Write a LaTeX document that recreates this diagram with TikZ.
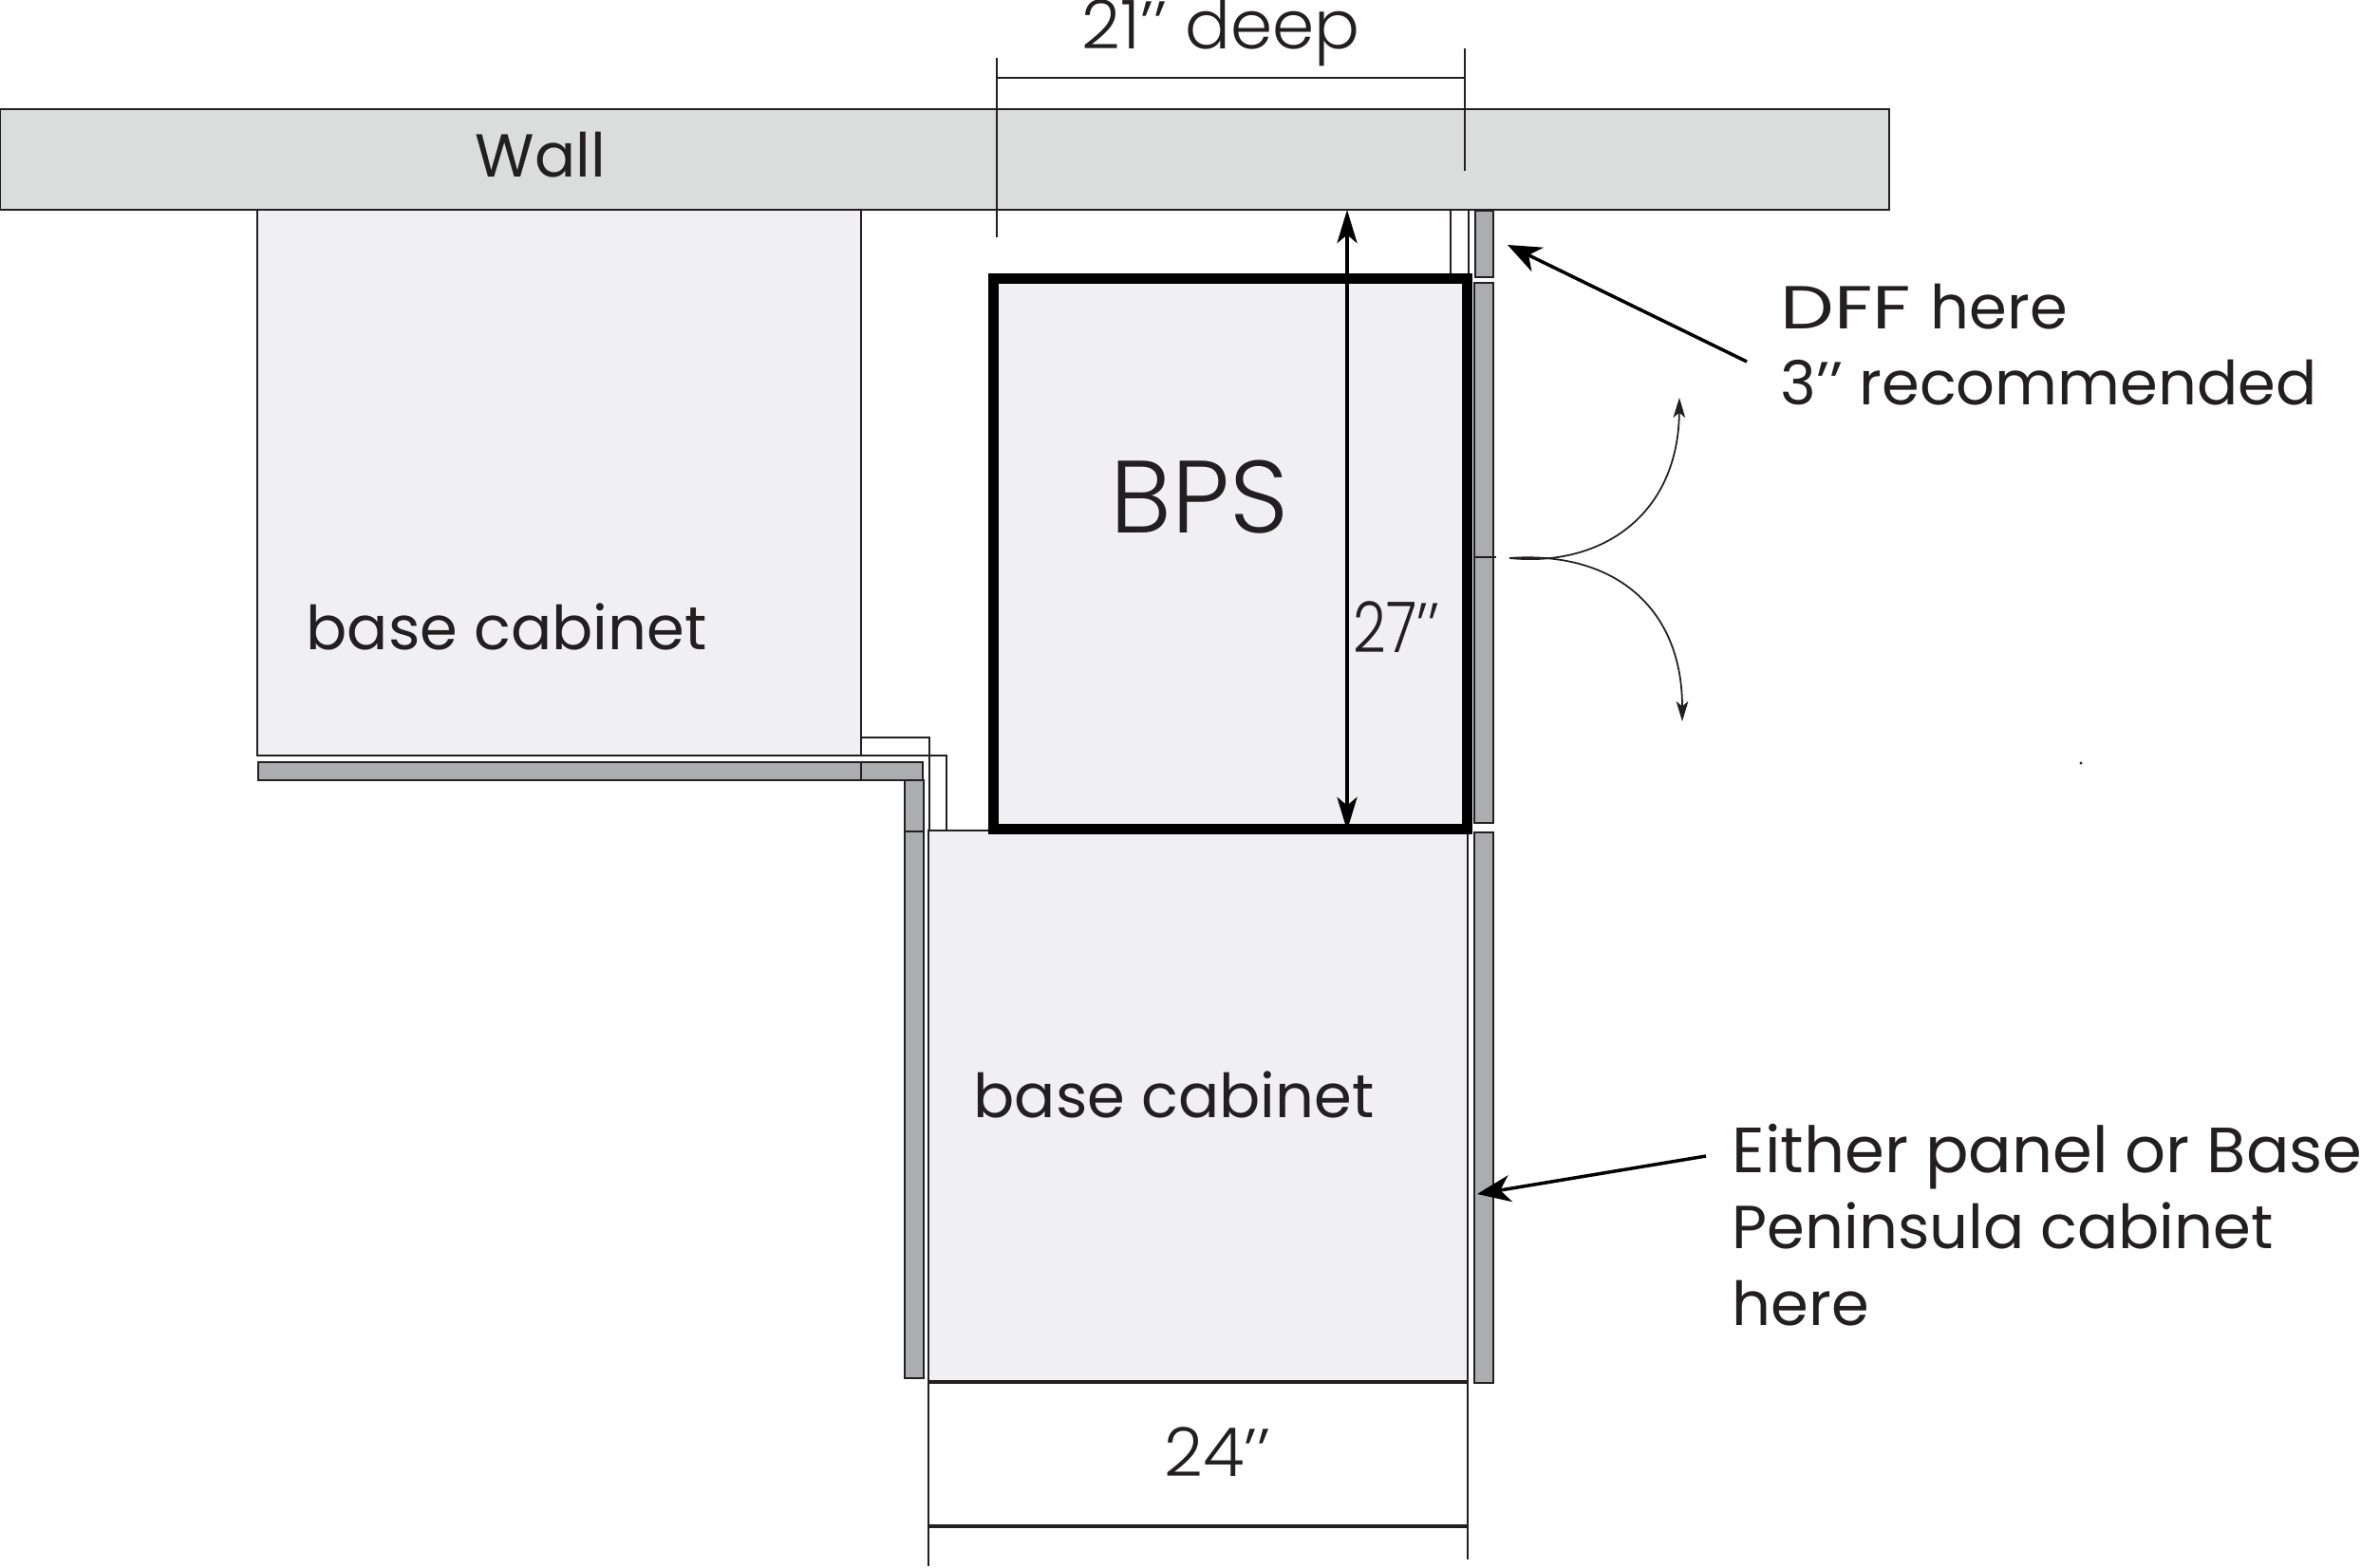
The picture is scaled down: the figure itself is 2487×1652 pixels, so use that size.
\documentclass[tikz,border=0pt]{standalone}
\usepackage{fontspec}
\usetikzlibrary{arrows.meta}
\setmainfont{Poppins}
\newfontfamily\lightfont{Poppins Light}
\newfontfamily\narrowfont[FakeStretch=0.82]{Poppins Light}
\newfontfamily\widefont[FakeStretch=1.25]{Poppins}
\definecolor{ink}{HTML}{231F20}
\definecolor{wallgray}{HTML}{DBDDDC}
\definecolor{cabgray}{HTML}{F0F0F2}
\definecolor{panelgray}{HTML}{ABADAF}
\tikzset{
  edge/.style={draw=ink,line width=0.75pt},
  wallbox/.style={draw=ink,line width=0.5pt,fill=wallgray},
  cabbox/.style={edge,fill=cabgray},
  panelbox/.style={draw=ink,line width=0.55pt,fill=panelgray},
  bpsbox/.style={draw=black,line width=3.1pt,fill=cabgray,line join=miter},
  label/.style={inner sep=0pt,anchor=base west,text=ink,font=\fontsize{18.2}{22}\selectfont},
  dimlabel/.style={inner sep=0pt,anchor=base west,text=ink,font=\lightfont\fontsize{20.2}{24}\selectfont},
  bigarrow/.style={draw=black,line width=1pt,-{Stealth[length=10pt,width=8pt,inset=3pt]}},
  dimarrow/.style={draw=black,line width=1pt,{Stealth[length=10pt,width=6pt,inset=2.5pt]}-{Stealth[length=10pt,width=6pt,inset=2.5pt]}},
  swing/.style={draw=ink,line width=0.5pt,-{Stealth[length=6pt,width=3.6pt,inset=1.5pt]}}
}
\begin{document}
\begin{tikzpicture}[x=0.01cm,y=-0.01cm]
\useasboundingbox (0,0) rectangle (2487,1652);
% wall
\path[wallbox] (0,115) rectangle (1990,221);
% cabinets
\path[cabbox] (271,221) rectangle (907,796);
\path[cabbox] (978,875) rectangle (1546,1457);
\draw[ink,line width=1.3pt] (978,1456) -- (1546,1456);
% panels
\path[panelbox] (272,803) rectangle (972,822);
\draw[panelbox] (907,803) -- (907,822);
\path[panelbox] (953,822) rectangle (973,1452);
\draw[panelbox] (953,876) -- (973,876);
\path[panelbox] (1554,222) rectangle (1573,292);
\path[panelbox] (1553,298) rectangle (1573,867);
\draw[edge] (1553,587) -- (1576,587);
\path[panelbox] (1553,877) rectangle (1573,1457);
% small returns
\draw[edge] (907,777) -- (979,777) -- (979,875);
\draw[edge] (907,796) -- (997,796) -- (997,875);
\draw[edge] (979,875) -- (1046,875);
\draw[edge] (1528,221) -- (1528,288);
\draw[edge] (1547,221) -- (1547,288);
% BPS
\path[bpsbox] (1046.5,293.5) rectangle (1545.5,873.5);
% dimension lines
\coordinate (d21a) at (1050,61); \coordinate (d21b) at (1050,250);
\coordinate (d21c) at (1543,51); \coordinate (d21d) at (1543,180);
\coordinate (d21l) at (1050,82); \coordinate (d21r) at (1543,82);
\draw[edge] (d21a) -- (d21b);
\draw[edge] (d21c) -- (d21d);
\draw[edge] (d21l) -- (d21r);
\coordinate (d24a) at (978,1456); \coordinate (d24b) at (978,1650);
\coordinate (d24c) at (1546,1456); \coordinate (d24d) at (1546,1643);
\coordinate (d24l) at (978,1608); \coordinate (d24r) at (1546,1608);
\draw[edge] (d24a) -- (d24b);
\draw[edge] (d24c) -- (d24d);
\draw[edge,line width=1.1pt] (d24l) -- (d24r);
\coordinate (d27t) at (1419,221); \coordinate (d27b) at (1419,875);
\draw[dimarrow] (d27t) -- (d27b);
% leader arrows
\coordinate (dfft) at (1840,381); \coordinate (dffh) at (1588,258);
\draw[bigarrow] (dfft) -- (dffh);
\coordinate (pant) at (1797,1218); \coordinate (panh) at (1556,1258);
\draw[bigarrow] (pant) -- (panh);
% door swings
\coordinate (swingstart) at (1590,588);
\coordinate (swingup) at (1769,419);
\coordinate (swingdown) at (1772,760);
\draw[swing] (swingstart) .. controls (1690,598) and (1768,540) .. (swingup);
\draw[swing] (swingstart) .. controls (1700,580) and (1772,640) .. (swingdown);
\fill[ink] (2192,804) circle (1.6);
% text
\node[label] (wall) at (500,187) {Wall};
\node[label] (base1) at (322,685) {base cabinet};
\node[label] (base2) at (1025,1177) {base cabinet};
\node[label,font=\lightfont\fontsize{30.8}{34}\selectfont] (bps) at (1169,561) {BPS};
\node[dimlabel] (deep) at (1139,52) {21’’ deep};
\node[dimlabel,font=\narrowfont\fontsize{21}{24}\selectfont] (t27) at (1425,687) {27’’};
\node[dimlabel] (t24) at (1226,1555) {24’’};
\node[label] (dff1) at (1875,347) {{\widefont DFF}\hspace{1pt} here};
\node[label] (dff2) at (1875,427) {3’’ recommended};
\node[label,font=\fontsize{19.15}{22}\selectfont] (ei1) at (1824,1235) {Either panel or Base};
\node[label] (ei2) at (1824,1315) {Peninsula cabinet};
\node[label] (ei3) at (1824,1396) {here};
\end{tikzpicture}
\end{document}
